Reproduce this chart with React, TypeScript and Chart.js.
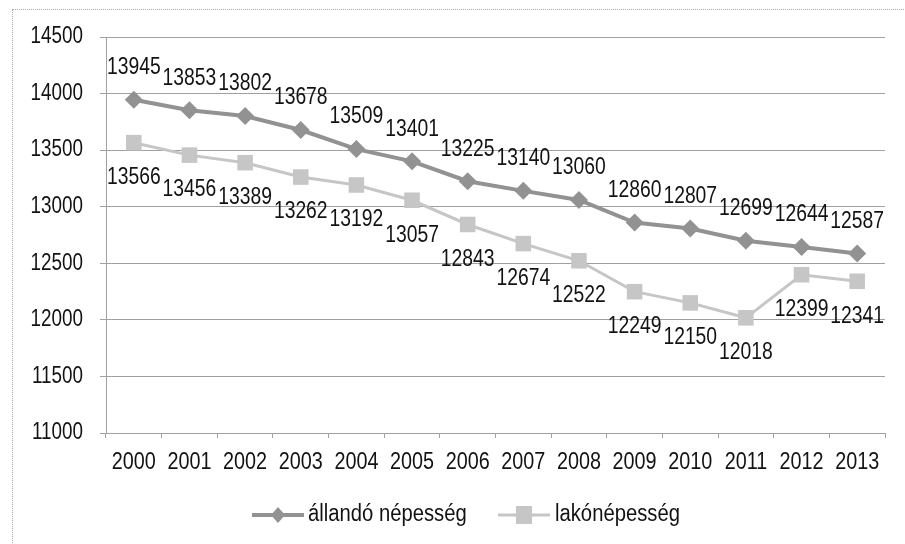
import React, { useEffect, useRef } from "react";
import { Chart, registerables } from "chart.js";

Chart.register(...registerables);

const years = ["2000", "2001", "2002", "2003", "2004", "2005", "2006", "2007", "2008", "2009", "2010", "2011", "2012", "2013"];
const allandoNepesseg = [13945, 13853, 13802, 13678, 13509, 13401, 13225, 13140, 13060, 12860, 12807, 12699, 12644, 12587];
const lakoNepesseg = [13566, 13456, 13389, 13262, 13192, 13057, 12843, 12674, 12522, 12249, 12150, 12018, 12399, 12341];
const seriesNames = ["állandó népesség", "lakónépesség"];
const yMin = 11000;
const yMax = 14500;
const yStep = 500;

const FONT = "'Liberation Sans', Arial, sans-serif";
const FONT_SIZE = 23;
const TEXT = "#121212";
const DARK = "#929292";
const LIGHT = "#c6c6c6";

function narrowText(ctx: any, text: string, x: number, y: number, align: string, squeeze: number) {
  ctx.save();
  ctx.translate(x, y);
  ctx.scale(squeeze, 1);
  ctx.font = `${FONT_SIZE}px ${FONT}`;
  ctx.fillStyle = TEXT;
  ctx.textAlign = align;
  ctx.textBaseline = "middle";
  ctx.fillText(text, 0, 0);
  ctx.restore();
}

const labelPlugin = {
  id: "valueLabels",
  afterDatasetsDraw(chart: any) {
    const ctx = chart.ctx;
    chart.data.datasets.forEach((ds: any, di: number) => {
      const meta = chart.getDatasetMeta(di);
      meta.data.forEach((pt: any, i: number) => {
        const off = di === 0 ? -32 : 35;
        narrowText(ctx, String(ds.data[i]), pt.x, pt.y + off, "center", 0.84);
      });
    });
  },
  afterDraw(chart: any) {
    const ctx = chart.ctx;
    const ys = chart.scales.y;
    ys.ticks.forEach((t: any) => {
      narrowText(ctx, String(t.value), 83, ys.getPixelForValue(t.value), "right", 0.82);
    });
    const xs = chart.scales.x;
    chart.data.labels.forEach((lab: string, i: number) => {
      narrowText(ctx, lab, xs.getPixelForValue(i), 463, "center", 0.86);
    });
    ctx.save();
    const y = 515;
    const items = [
      { x1: 252, x2: 304, color: DARK, shape: "diamond", width: 4, text: seriesNames[0], tx: 308 },
      { x1: 498, x2: 550, color: LIGHT, shape: "square", width: 3, text: seriesNames[1], tx: 555 },
    ];
    items.forEach((it) => {
      ctx.strokeStyle = it.color;
      ctx.lineWidth = it.width;
      ctx.beginPath();
      ctx.moveTo(it.x1, y);
      ctx.lineTo(it.x2, y);
      ctx.stroke();
      const cx = (it.x1 + it.x2) / 2;
      ctx.fillStyle = it.color;
      ctx.beginPath();
      if (it.shape === "diamond") {
        ctx.moveTo(cx, y - 8);
        ctx.lineTo(cx + 7, y);
        ctx.lineTo(cx, y + 8);
        ctx.lineTo(cx - 7, y);
        ctx.closePath();
      } else {
        ctx.rect(cx - 8, y - 9, 16, 18);
      }
      ctx.fill();
      narrowText(ctx, it.text, it.tx, y, "left", 0.88);
    });
    ctx.restore();
  },
};

export default function App() {
  const ref = useRef<HTMLCanvasElement | null>(null);
  useEffect(() => {
    if (!ref.current) return;
    const chart = new Chart(ref.current, {
      type: "line",
      data: {
        labels: years,
        datasets: [
          {
            label: seriesNames[0],
            data: allandoNepesseg,
            borderColor: DARK,
            backgroundColor: DARK,
            borderWidth: 4,
            pointStyle: "rectRot",
            pointRadius: 9,
            pointBorderWidth: 0,
            tension: 0,
          },
          {
            label: seriesNames[1],
            data: lakoNepesseg,
            borderColor: LIGHT,
            backgroundColor: LIGHT,
            borderWidth: 3,
            pointStyle: "rect",
            pointRadius: 11,
            pointBorderWidth: 0,
            tension: 0,
          },
        ],
      },
      options: {
        responsive: false,
        animation: false,
        layout: { padding: { top: 37, right: 20, bottom: 0, left: 0 } },
        plugins: {
          legend: { display: false },
          tooltip: { enabled: false },
        },
        scales: {
          x: {
            offset: true,
            grid: {
              offset: true,
              drawOnChartArea: false,
              drawTicks: true,
              tickLength: 5,
              color: "#a0a0a0",
            },
            border: { color: "#a0a0a0", width: 1 },
            ticks: { display: false, autoSkip: false },
            afterFit: (s: any) => {
              s.height = 111;
            },
          },
          y: {
            min: yMin,
            max: yMax,
            grid: { color: "#a0a0a0", lineWidth: 1, tickLength: 6 },
            border: { color: "#a0a0a0", width: 1 },
            ticks: { stepSize: yStep, display: false },
            afterFit: (s: any) => {
              s.width = 106;
            },
          },
        },
      },
      plugins: [labelPlugin],
    });
    return () => chart.destroy();
  }, []);
  return (
    <div style={{ position: "fixed", left: 0, top: 0, width: 905, height: 544, background: "#fff", overflow: "hidden" }}>
      <div
        style={{
          position: "absolute",
          left: 12,
          top: 9,
          width: 920,
          height: 560,
          border: "1px dotted #aaa",
        }}
      />
      <canvas ref={ref} width={905} height={544} style={{ position: "absolute", left: 0, top: 0 }} />
    </div>
  );
}
